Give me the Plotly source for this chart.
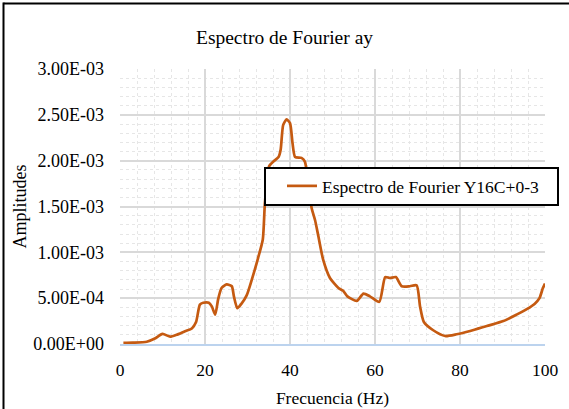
import plotly.graph_objects as go

# ---- data ----
freq_hz = [0.8, 3.0, 6.3, 8.2, 10.0, 11.8, 13.3, 15.3, 16.9, 17.9, 18.8, 19.6, 20.9, 21.6,
           22.4, 23.1, 23.9, 25.1, 26.3, 26.8, 27.6, 28.6, 29.8, 31.0, 32.5, 33.6, 34.1,
           35.1, 36.1, 37.3, 37.8, 38.4, 39.2, 40.0, 40.6, 41.2, 42.7, 43.5, 44.3, 45.1,
           45.9, 46.7, 47.8, 49.4, 51.4, 52.5, 53.5, 55.7, 57.3, 58.8, 61.0, 62.4, 63.5,
           64.9, 66.3, 68.2, 69.8, 70.6, 71.5, 73.7, 76.5, 79.2, 82.4, 86.3, 90.2, 93.3,
           95.7, 97.6, 98.7, 99.5, 100.0]
amplitude = [1.2e-5, 1.5e-5, 2.5e-5, 6.0e-5, 1.1e-4, 8.0e-5, 1.0e-4, 1.4e-4, 1.7e-4, 2.4e-4,
             4.3e-4, 4.5e-4, 4.5e-4, 4.1e-4, 3.2e-4, 4.9e-4, 6.1e-4, 6.5e-4, 6.3e-4, 5.2e-4,
             3.9e-4, 4.4e-4, 5.3e-4, 7.0e-4, 9.4e-4, 1.14e-3, 1.54e-3, 1.94e-3, 1.99e-3,
             2.04e-3, 2.12e-3, 2.39e-3, 2.45e-3, 2.41e-3, 2.19e-3, 2.04e-3, 2.03e-3, 1.99e-3,
             1.75e-3, 1.48e-3, 1.35e-3, 1.17e-3, 9.2e-4, 7.2e-4, 6.1e-4, 5.8e-4, 5.2e-4,
             4.7e-4, 5.5e-4, 5.2e-4, 4.6e-4, 7.3e-4, 7.2e-4, 7.3e-4, 6.3e-4, 6.3e-4, 6.4e-4,
             4.1e-4, 2.4e-4, 1.5e-4, 8.7e-5, 1.06e-4, 1.42e-4, 1.96e-4, 2.5e-4, 3.2e-4,
             3.8e-4, 4.4e-4, 5.0e-4, 6.1e-4, 6.6e-4]
series_name = "Espectro de Fourier Y16C+0-3"

x_tick_vals = [0, 20, 40, 60, 80, 100]
y_tick_vals = [0.0, 5e-4, 1e-3, 1.5e-3, 2e-3, 2.5e-3, 3e-3]
y_tick_labels = ["0.00E+00", "5.00E-04", "1.00E-03", "1.50E-03", "2.00E-03", "2.50E-03", "3.00E-03"]

chart_title = "Espectro de Fourier ay"
x_title = "Frecuencia (Hz)"
y_title = "Amplitudes"

# ---- layout ----
W, H = 569, 409
ML, MR, MT, MB = 120, 24, 69, 65
PW, PH = W - ML - MR, H - MT - MB
FONT = "Liberation Serif"

def px_x(px):
    return (px - ML) / PW

def px_y(py):
    return (H - MB - py) / PH

fig = go.Figure()
fig.add_trace(go.Scatter(
    x=freq_hz, y=amplitude, mode="lines", name=series_name,
    line=dict(color="#C55A11", width=2.7, shape="spline", smoothing=0.6),
    showlegend=True,
))

fig.update_layout(
    width=W, height=H,
    margin=dict(l=ML, r=MR, t=MT, b=MB, autoexpand=False),
    paper_bgcolor="white", plot_bgcolor="white",
    font=dict(family=FONT, color="black", size=17.5),
    title=dict(text=chart_title, x=0.5, xref="container", xanchor="center",
               y=1 - 37 / H, yref="container", yanchor="middle",
               font=dict(family=FONT, size=19.5, color="black")),
    showlegend=True,
    legend=dict(x=px_x(272), y=px_y(168), xanchor="left", yanchor="top",
                bgcolor="rgba(0,0,0,0)", borderwidth=0,
                font=dict(family=FONT, size=17.5, color="black"),
                indentation=10),
    xaxis=dict(range=[0, 100], tickvals=x_tick_vals, ticks="", ticklabelstandoff=9,
               tickfont=dict(family=FONT, size=17.5),
               showgrid=True, gridcolor="#d9d9d9", gridwidth=1.5,
               minor=dict(dtick=4, showgrid=True, gridcolor="#e6e6e6", griddash="dot", gridwidth=1),
               showline=True, linecolor="#BCD3EE", linewidth=2, zeroline=False,
               title=dict(text=x_title, standoff=13, font=dict(family=FONT, size=17.5))),
    yaxis=dict(range=[0, 3e-3], tickvals=y_tick_vals, ticktext=y_tick_labels, ticks="",
               ticklabelstandoff=15, tickfont=dict(family=FONT, size=18),
               showgrid=True, gridcolor="#d9d9d9", gridwidth=1.5,
               minor=dict(dtick=1e-4, showgrid=True, gridcolor="#e6e6e6", griddash="dot", gridwidth=1),
               showline=False, zeroline=False,
               title=dict(text=y_title, standoff=2, font=dict(family=FONT, size=18))),
    shapes=[
        dict(type="line", xref="paper", yref="paper", x0=px_x(3.5), x1=px_x(W + 2),
             y0=px_y(3.5), y1=px_y(3.5), line=dict(color="black", width=2)),
        dict(type="line", xref="paper", yref="paper", x0=px_x(3.5), x1=px_x(3.5),
             y0=px_y(2.5), y1=px_y(H + 2), line=dict(color="black", width=2)),
        dict(type="rect", xref="paper", yref="paper", layer="above",
             x0=px_x(265), x1=px_x(558), y0=px_y(205), y1=px_y(168),
             fillcolor="white", line=dict(color="black", width=2)),
    ],
)

fig.write_html("out.html", config={"displayModeBar": False},
               post_script="document.body.style.margin='0';")
